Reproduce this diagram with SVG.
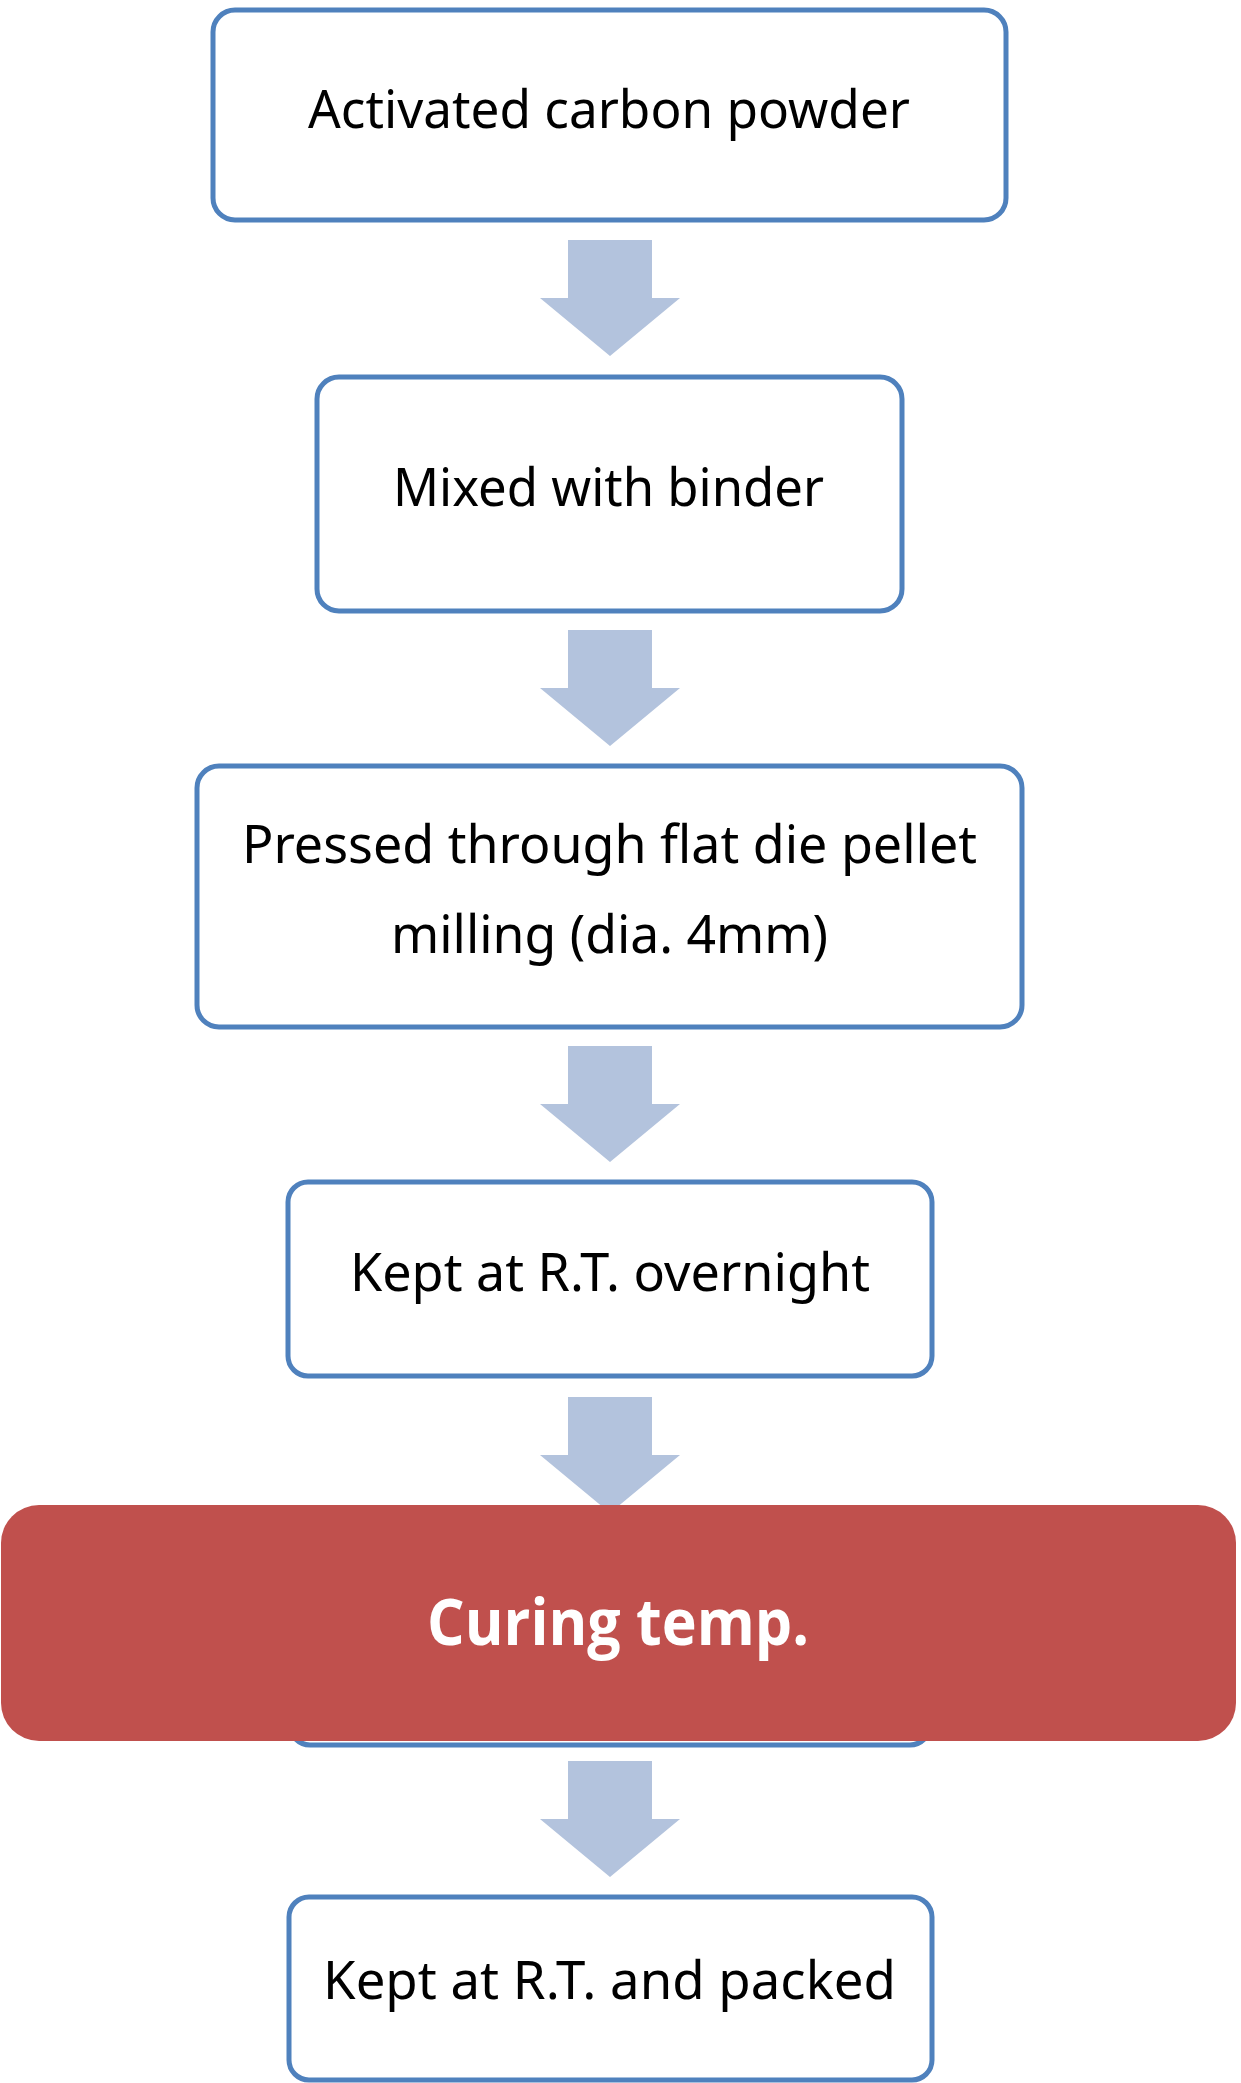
<svg xmlns="http://www.w3.org/2000/svg" width="1241" height="2083" viewBox="0 0 1241 2083">
<style>
.box{fill:#FFFFFF;stroke:#4F81BD;stroke-width:5}
.arr{fill:#B3C3DD}
.t{font-family:"Noto Sans","Open Sans","DejaVu Sans",sans-serif;font-size:52px;fill:#000000;text-anchor:start}
.tb{font-family:"Open Sans","Noto Sans",sans-serif;font-weight:bold;font-size:64px;fill:#FFFFFF}
</style>
<rect x="0" y="0" width="1241" height="2083" fill="#FFFFFF"/>
<g id="connectors">
<polygon class="arr" points="568,240 652,240 652,298 680,298 610,356 540,298 568,298"/>
<polygon class="arr" points="568,630 652,630 652,688 680,688 610,746 540,688 568,688"/>
<polygon class="arr" points="568,1046 652,1046 652,1104 680,1104 610,1162 540,1104 568,1104"/>
<polygon class="arr" points="568,1397 652,1397 652,1455 680,1455 610,1513 540,1455 568,1455"/>
<polygon class="arr" points="568,1761 652,1761 652,1819 680,1819 610,1877 540,1819 568,1819"/>
</g>
<g id="n1">
<rect class="box" x="213" y="10" width="793" height="210" rx="22"/>
<text class="t" x="308" y="128" textLength="602" lengthAdjust="spacingAndGlyphs">Activated carbon powder</text>
</g>
<g id="n2">
<rect class="box" x="317" y="377" width="585" height="234" rx="22"/>
<text class="t" x="393" y="506" textLength="431" lengthAdjust="spacingAndGlyphs">Mixed with binder</text>
</g>
<g id="n3">
<rect class="box" x="197" y="766" width="825" height="261" rx="22"/>
<text class="t" x="242" y="863" textLength="735" lengthAdjust="spacingAndGlyphs">Pressed through flat die pellet</text>
<text class="t" x="391" y="953" textLength="437" lengthAdjust="spacingAndGlyphs">milling (dia. 4mm)</text>
</g>
<g id="n4">
<rect class="box" x="288" y="1182" width="644" height="194" rx="20"/>
<text class="t" x="350" y="1291" textLength="520" lengthAdjust="spacingAndGlyphs">Kept at R.T. overnight</text>
</g>
<g id="n5">
<rect class="box" x="290" y="1520" width="640" height="225" rx="20"/>
</g>
<g id="n6">
<rect x="1" y="1505" width="1235" height="236" rx="38" fill="#C0504D"/>
<text class="tb" x="427" y="1645" textLength="382" lengthAdjust="spacingAndGlyphs">Curing temp.</text>
</g>
<g id="n7">
<rect class="box" x="289" y="1897" width="643" height="183" rx="20"/>
<text class="t" x="323" y="1999" textLength="573" lengthAdjust="spacingAndGlyphs">Kept at R.T. and packed</text>
</g>
</svg>
